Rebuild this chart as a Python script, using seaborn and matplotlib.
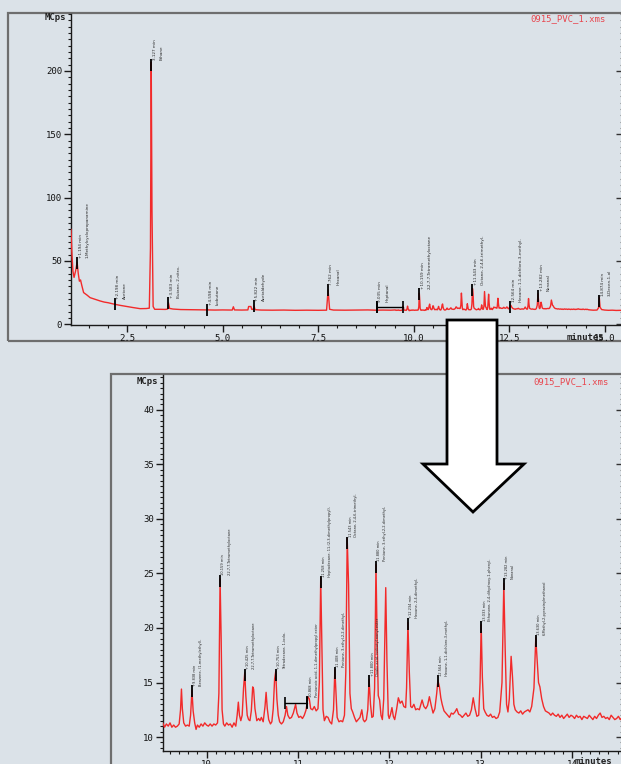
import numpy as np
import pandas as pd
import matplotlib
matplotlib.use("Agg")
import matplotlib.pyplot as plt
import seaborn as sns
from matplotlib.patches import Rectangle, Polygon
from matplotlib.ticker import MultipleLocator, FormatStrFormatter

# ---------------- data ----------------
time_min = [
    1.03, 1.05, 1.08, 1.11, 1.15, 1.19, 1.22, 1.25, 1.28, 1.31, 1.36, 1.45, 1.53, 1.65, 1.79, 1.90,
    2.00, 2.14, 2.30, 2.49, 2.65, 2.84, 3.00, 3.08, 3.11, 3.13, 3.15, 3.18, 3.22, 3.35, 3.50, 3.56,
    3.58, 3.61, 3.70, 3.90, 4.10, 4.41, 4.58, 4.60, 4.62, 4.80, 5.00, 5.25, 5.28, 5.31, 5.50, 5.66,
    5.68, 5.74, 5.76, 5.80, 5.82, 5.85, 6.00, 6.30, 6.60, 6.90, 7.20, 7.50, 7.72, 7.76, 7.80, 7.90,
    8.20, 8.50, 8.80, 9.00, 9.20, 9.40, 9.50,
    9.52, 9.54, 9.56, 9.58, 9.60, 9.62, 9.64, 9.66, 9.68, 9.70, 9.715, 9.725, 9.735, 9.75, 9.77,
    9.79, 9.81, 9.825, 9.840, 9.853, 9.87, 9.885, 9.90, 9.92, 9.94, 9.96, 9.98, 10.00, 10.02,
    10.04, 10.06, 10.08, 10.10, 10.12, 10.135, 10.148, 10.160, 10.170, 10.185, 10.20, 10.22,
    10.24, 10.26, 10.28, 10.30, 10.32, 10.335, 10.348, 10.36, 10.375, 10.39, 10.405, 10.418,
    10.43, 10.445, 10.46, 10.475, 10.49, 10.505, 10.515, 10.53, 10.55, 10.57, 10.585, 10.60,
    10.62, 10.64, 10.652, 10.665, 10.68, 10.70, 10.715, 10.73, 10.745, 10.757, 10.770, 10.785,
    10.80, 10.82, 10.84, 10.86, 10.875, 10.89, 10.91, 10.93, 10.95, 10.975, 10.99, 11.01, 11.03,
    11.05, 11.07, 11.09, 11.11, 11.125, 11.14, 11.16, 11.18, 11.20, 11.22, 11.235, 11.250,
    11.262, 11.275, 11.29, 11.31, 11.33, 11.35, 11.37, 11.39, 11.405, 11.418, 11.43, 11.45,
    11.47, 11.49, 11.51, 11.525, 11.540, 11.555, 11.57, 11.585, 11.60, 11.62, 11.64, 11.66,
    11.68, 11.70, 11.715, 11.73, 11.75, 11.765, 11.780, 11.795, 11.81, 11.825, 11.84, 11.855,
    11.868, 11.88, 11.895, 11.91, 11.925, 11.94, 11.962, 11.975, 11.99, 12.00, 12.015, 12.03,
    12.045, 12.06, 12.08, 12.10, 12.12, 12.14, 12.16, 12.18, 12.19, 12.205, 12.22, 12.235,
    12.25, 12.27, 12.29, 12.31, 12.33, 12.36, 12.38, 12.40, 12.42, 12.44, 12.46, 12.48, 12.50,
    12.52, 12.533, 12.55, 12.565, 12.58, 12.60, 12.62, 12.64, 12.66, 12.68, 12.70, 12.72, 12.74,
    12.76, 12.78, 12.80, 12.82, 12.84, 12.86, 12.88, 12.90, 12.92, 12.94, 12.96, 12.98, 12.995,
    13.007, 13.02, 13.035, 13.05, 13.07, 13.09, 13.11, 13.13, 13.15, 13.17, 13.19, 13.21,
    13.235, 13.255, 13.27, 13.285, 13.30, 13.315, 13.335, 13.35, 13.365, 13.38, 13.40, 13.42,
    13.44, 13.46, 13.48, 13.50, 13.52, 13.54, 13.56, 13.585, 13.605, 13.62, 13.635, 13.65,
    13.67, 13.69, 13.71, 13.73, 13.75, 13.77, 13.79, 13.81, 13.83, 13.85, 13.87, 13.89, 13.91,
    13.93, 13.95, 13.97, 13.99, 14.01, 14.03, 14.05, 14.07, 14.09, 14.11, 14.13, 14.15, 14.17,
    14.19, 14.21, 14.23, 14.25, 14.27, 14.29, 14.31, 14.33, 14.35, 14.37, 14.39, 14.41, 14.43,
    14.45, 14.47, 14.49, 14.51, 14.53, 14.55, 14.57,
    14.62, 14.70, 14.80, 14.84, 14.86, 14.88, 14.92, 15.00, 15.10, 15.20, 15.30, 15.40, 15.50,
]
intensity_mcps = [
    75, 58, 42, 37, 42, 49, 40, 34, 35, 31, 25, 23, 21, 19.8, 18.4, 17.5,
    17.0, 16.0, 15.0, 14.0, 13.2, 12.3, 12.4, 12.7, 60, 207, 90, 14, 11.8, 11.8, 11.7, 12.0,
    17.0, 12.5, 12.0, 11.6, 11.5, 11.3, 11.3, 11.8, 11.3, 11.2, 11.3, 11.2, 13.8, 11.3, 11.2, 11.3,
    14.0, 14.0, 11.8, 11.7, 14.5, 11.5, 11.2, 11.1, 11.2, 11.0, 11.1, 11.0, 11.1, 27.0, 11.8, 11.2,
    11.1, 11.2, 11.3, 11.1, 11.2, 11.1, 11.2,
    11.3, 10.9, 11.2, 11.0, 11.3, 10.9, 11.1, 10.9, 11.0, 11.2, 12.5, 14.4, 12.6, 11.3, 11.0,
    11.1, 11.0, 12.0, 14.3, 12.4, 11.3, 10.7, 11.1, 10.9, 11.2, 11.0, 11.3, 11.1, 11.0,
    11.2, 11.0, 11.2, 11.1, 11.3, 14.0, 24.5, 19.0, 12.5, 11.2, 11.0, 11.3,
    11.1, 11.2, 10.9, 11.3, 11.0, 12.0, 13.2, 12.0, 11.5, 12.0, 14.5, 15.9,
    13.8, 12.0, 11.6, 11.5, 12.4, 14.6, 14.4, 12.6, 11.5, 11.7, 11.5, 11.8,
    11.4, 12.8, 14.1, 12.6, 11.6, 11.2, 11.4, 12.6, 15.3, 16.0, 13.5, 12.0,
    11.4, 11.2, 11.4, 12.0, 12.8, 12.0, 11.7, 11.8, 12.2, 13.0, 12.2, 11.8, 11.9,
    11.7, 12.0, 12.5, 13.7, 13.5, 12.6, 12.5, 12.8, 12.4, 12.6, 15.0, 24.6,
    19.0, 12.5, 11.5, 11.9, 11.8, 11.4, 11.2, 12.5, 16.2, 13.8, 11.8, 11.4,
    11.5, 11.4, 12.0, 16.0, 28.2, 24.0, 14.0, 12.6, 12.3, 11.8, 11.4, 11.6,
    11.8, 12.5, 11.6, 11.4, 11.6, 12.5, 15.3, 13.0, 11.8, 11.9, 14.5, 25.8,
    19.0, 13.8, 13.4, 12.0, 11.6, 13.5, 23.7, 17.0, 12.0, 11.7, 12.1, 12.7,
    11.9, 11.6, 12.5, 13.6, 13.1, 13.3, 12.8, 12.7, 14.5, 20.5, 16.0, 12.8,
    12.7, 13.0, 12.5, 12.6, 12.5, 13.4, 12.8, 12.6, 12.9, 13.7, 12.9, 12.2, 12.6,
    14.0, 15.2, 14.6, 13.6, 13.0, 12.4, 12.2, 12.0, 11.8, 12.2, 12.1, 12.3, 12.6,
    12.1, 12.0, 11.8, 12.0, 12.2, 11.9, 12.0, 12.5, 13.6, 12.6, 11.9, 12.0, 15.0,
    20.3, 15.5, 12.6, 12.3, 12.0, 11.9, 12.1, 11.8, 11.9, 11.7, 11.8, 12.3,
    15.0, 24.1, 18.0, 13.0, 12.3, 13.5, 17.4, 15.5, 13.0, 12.5, 12.3, 12.2,
    12.4, 12.1, 12.3, 12.4, 12.5, 12.3, 12.8, 14.5, 19.1, 17.0, 15.0, 14.6,
    13.5, 12.8, 12.4, 12.3, 12.2, 12.0, 12.2, 12.0, 11.9, 12.1, 11.8, 12.0, 11.7,
    11.9, 12.1, 11.8, 12.0, 11.9, 11.7, 12.0, 11.8, 11.9, 11.6, 11.9, 11.8, 11.7,
    12.0, 11.8, 11.6, 11.9, 11.7, 12.0, 12.2, 11.8, 11.9, 11.7, 11.8, 11.6, 12.0,
    11.8, 11.6, 11.7, 11.9, 11.6, 11.8, 11.5,
    11.3, 11.1, 11.2, 13.0, 21.0, 13.5, 11.6, 11.2, 11.0, 11.1, 10.9, 11.0, 11.0,
]

# peak labels - overview panel
top_peak_t = [1.19, 2.17, 3.13, 3.58, 4.60, 5.82, 7.76, 9.04, 10.15, 11.54, 12.53, 13.26, 14.86]
top_peak_v = [48, 16, 205, 17, 11.5, 14.5, 27, 14, 24, 27, 13.5, 22, 18]
top_peak_time = ["+1.194 min", "+2.198 min", "3.127 min", "+3.583 min", "+4.598 min",
                 "+5.822 min", "7.762 min", "9.035 min", "+10.159 min", "+11.543 min",
                 "12.564 min", "+13.282 min", "14.874 min"]
top_peak_name = ["1-Methylcyclopropanamine", "Acetone", "Ethane", "Butane, 2-nitro-",
                 "Isobutane", "Acetaldehyde", "Hexanal", "Heptanal",
                 "2,2,7,7-Tetramethyloctane", "Octane, 2,4,6-trimethyl-",
                 "Hexane, 1,1-dichloro-3-methyl-", "Nonanal", "3-Decen-1-ol"]

# peak labels - zoomed panel
zoom_peak_t = [9.840, 10.148, 10.418, 10.757, 11.105, 11.250, 11.405, 11.540, 11.780,
               11.855, 12.205, 12.533, 13.007, 13.255, 13.605]
zoom_peak_v = [14.2, 24.3, 15.7, 15.7, 13.2, 24.2, 15.9, 27.8, 15.1, 25.6, 20.4, 15.1, 20.1, 24.0, 18.8]
zoom_peak_time = ["+9.838 min", "10.159 min", "+10.425 min", "+10.753 min", "10.868 min",
                  "11.258 min", "11.408 min", "11.543 min", "+11.800 min", "11.880 min",
                  "+12.234 min", "12.564 min", "13.033 min", "+13.282 min", "13.630 min"]
zoom_peak_name = ["Benzene, (1-methylethyl)-", "2,2,7,7-Tetramethyloctane",
                  "2,2,7,7-Tetramethyloctane", "Tetradecane, 1-iodo-",
                  "Pentanoic acid, 1,1-dimethylpropyl ester",
                  "Heptadecane, 11-(2,3-dimethylpropyl)-", "Pentane, 3-ethyl-2,2-dimethyl-",
                  "Octane, 2,4,6-trimethyl-", "Oxalic acid, isobutyl nonyl ester",
                  "Pentane, 3-ethyl-2,2-dimethyl-", "Hexane, 2,4-dimethyl-",
                  "Hexane, 1,1-dichloro-3-methyl-", "Ethanone, 2,4-dihydroxy-1-phenyl-",
                  "Nonanal", "6-Methyl-2-pyrazinylmethanol"]

# integration bars
top_bar = (9.04, 9.73, 14.0)
zoom_bar = (10.864, 11.105, 13.15)

title_text = "0915_PVC_1.xms"

df = pd.DataFrame({"t": time_min, "v": intensity_mcps})

# ---------------- figure ----------------
sns.set_theme(style="white")
plt.rcParams["font.family"] = ["DejaVu Sans Mono", "DejaVu Sans"]

W, H = 621, 764
BG = "#dbe2e8"
RED = "#f22a2a"
fig = plt.figure(figsize=(W / 100, H / 100), dpi=100, facecolor=BG)


def fx(px):
    return px / W


def fy(py):
    return 1 - py / H


# window frames
fig.add_artist(Rectangle((fx(8), fy(341)), 1.5, fy(13) - fy(341), transform=fig.transFigure,
                         fill=False, ec="#6e6e6e", lw=1.6, zorder=0))
fig.add_artist(Rectangle((fx(111), fy(900)), 1.5, fy(374) - fy(900), transform=fig.transFigure,
                         fill=False, ec="#6e6e6e", lw=1.6, zorder=0))

ax1 = fig.add_axes([fx(71), fy(325), fx(623) - fx(71), fy(14) - fy(325)])
ax2 = fig.add_axes([fx(163), fy(751), fx(623) - fx(163), fy(375) - fy(751)])

LABEL_FAMILY = ["Liberation Sans Narrow", "DejaVu Sans"]


def style_axes(ax, xlim, ylim, xmaj, xmin, ymaj, ymin, xfmt):
    ax.set_facecolor("none")
    sns.lineplot(data=df, x="t", y="v", ax=ax, color=RED, lw=1.0, estimator=None,
                 sort=False, zorder=3)
    ax.set_xlim(*xlim)
    ax.set_ylim(*ylim)
    ax.set_xlabel("")
    ax.set_ylabel("")
    ax.spines["top"].set_visible(False)
    for s in ("left", "bottom", "right"):
        ax.spines[s].set_visible(True)
        ax.spines[s].set_color("#1a1a1a")
        ax.spines[s].set_linewidth(1.0)
    ax.xaxis.set_major_locator(MultipleLocator(xmaj))
    ax.xaxis.set_minor_locator(MultipleLocator(xmin))
    ax.yaxis.set_major_locator(MultipleLocator(ymaj))
    ax.yaxis.set_minor_locator(MultipleLocator(ymin))
    ax.xaxis.set_major_formatter(FormatStrFormatter(xfmt))
    ax.yaxis.set_major_formatter(FormatStrFormatter("%d"))
    ax.tick_params(axis="both", which="major", direction="out", length=5, width=1,
                   color="#1a1a1a", labelsize=6.5, pad=1.5, labelcolor="#111111")
    ax.tick_params(axis="both", which="minor", direction="out", length=2, width=0.8,
                   color="#1a1a1a")
    ax.tick_params(axis="x", which="both", bottom=True, top=False)
    ax.tick_params(axis="y", which="both", left=True, right=False)
    sec = ax.secondary_yaxis("right")
    sec.yaxis.set_major_locator(MultipleLocator(ymaj))
    sec.yaxis.set_minor_locator(MultipleLocator(ymin))
    sec.tick_params(which="major", direction="in", length=5, width=1, color="#333333",
                    labelright=False)
    sec.tick_params(which="minor", direction="in", length=2, width=0.8, color="#777777")
    sec.spines["right"].set_color("#1a1a1a")


def label_peaks(ax, ts, vs, times, names, fs, ls, ms):
    ax.plot(ts, vs, ls="none", marker="|", ms=ms, mew=1.3, color="black", zorder=5)
    for t, v, tm, nm in zip(ts, vs, times, names):
        ax.annotate(f"{tm}\n{nm}", xy=(t, v), xytext=(1.0, ms * 0.45),
                    textcoords="offset points", rotation=90, ha="left", va="bottom",
                    fontsize=fs, linespacing=ls, family=LABEL_FAMILY, color="#2a2a2a",
                    zorder=6)


def draw_bar(ax, bar, ms):
    a, b, lvl = bar
    ax.plot([a, b], [lvl, lvl], color="black", lw=1.0, zorder=5)
    ax.plot([a, b], [lvl, lvl], ls="none", marker="|", ms=ms, mew=1.2, color="black", zorder=5)


style_axes(ax1, (1.03, 15.48), (-0.6, 245), 2.5, 0.5, 50, 5, "%.1f")
style_axes(ax2, (9.523, 14.56), (8.72, 43.2), 1, 0.1, 5, 0.5, "%d")

label_peaks(ax1, top_peak_t, top_peak_v, top_peak_time, top_peak_name, 3.0, 2.0, 8)
label_peaks(ax2, zoom_peak_t, zoom_peak_v, zoom_peak_time, zoom_peak_name, 2.6, 1.6, 9)
draw_bar(ax1, top_bar, 8)
draw_bar(ax2, zoom_bar, 9)

# headers / units
txt_kw = dict(fontsize=6.5, family=["DejaVu Sans Mono", "DejaVu Sans"])
fig.text(fx(66), fy(18), "MCps", ha="right", va="center", weight="bold", color="#222222", **txt_kw)
fig.text(fx(158), fy(382), "MCps", ha="right", va="center", weight="bold", color="#222222", **txt_kw)
fig.text(fx(606), fy(19), title_text, ha="right", va="center", color="#e8474f", **txt_kw)
fig.text(fx(609), fy(382), title_text, ha="right", va="center", color="#e8474f", **txt_kw)
fig.text(fx(567), fy(338), "minutes", ha="left", va="center", weight="bold", color="#222222", **txt_kw)
fig.text(fx(575), fy(761), "minutes", ha="left", va="center", weight="bold", color="#222222", **txt_kw)

# big arrow from the overview to the zoom
arrow_px = [(447, 320), (497, 320), (497, 464), (524, 464), (473, 512), (423, 464), (447, 464)]
fig.add_artist(Polygon([(fx(x), fy(y)) for x, y in arrow_px], closed=True,
                       transform=fig.transFigure, fc="white", ec="black", lw=2.0, zorder=20))

fig.savefig("out.png", dpi=100, facecolor=BG)
